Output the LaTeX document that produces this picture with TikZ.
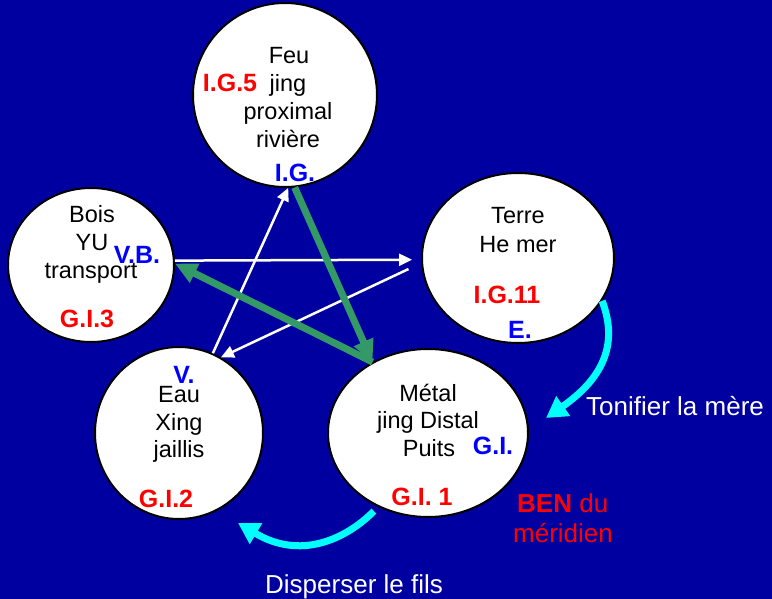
\documentclass[tikz,border=0pt]{standalone}
\usepackage{fontspec}
\setmainfont{Liberation Sans}
\usetikzlibrary{shapes.geometric,arrows.meta}
\definecolor{bgblue}{RGB}{0,0,160}
\definecolor{labblue}{RGB}{0,0,255}
\definecolor{labred}{RGB}{255,0,0}
\definecolor{arrgreen}{RGB}{51,153,102}
\definecolor{arrcyan}{RGB}{0,255,255}
\begin{document}
\begin{tikzpicture}[x=1pt,y=-1pt,
  circ/.style={ellipse, draw=black, line width=2pt, fill=white, inner sep=0pt},
  txt/.style={anchor=base, inner sep=0pt, text=black, font=\fontsize{23.5}{28}\selectfont},
  redl/.style={anchor=base, inner sep=0pt, text=labred, font=\fontsize{25}{30}\selectfont\bfseries},
  bluel/.style={anchor=base, inner sep=0pt, text=labblue, font=\fontsize{25}{30}\selectfont\bfseries},
  outtxt/.style={inner sep=0pt, font=\fontsize{26}{30}\selectfont},
  whitearr/.style={draw=white, line width=2.5pt, -{Triangle[length=13pt,width=12pt]}},
  greenarr/.style={draw=arrgreen, line width=7pt, -{Triangle[length=22pt,width=20pt]}},
  cyanarr/.style={draw=arrcyan, line width=7pt, -{Triangle[length=21pt,width=23pt]}}]
\fill[bgblue] (0,0) rectangle (772,599);
\path[use as bounding box] (0,0) rectangle (772,599);

% circles
\node[circ, minimum width=184pt, minimum height=184pt] (feu) at (285,95) {};
\node[circ, minimum width=166pt, minimum height=154pt] (bois) at (91,265) {};
\node[circ, minimum width=192pt, minimum height=170pt] (terre) at (518,258) {};
\node[circ, minimum width=168pt, minimum height=172pt] (eau) at (179,433) {};
\node[circ, minimum width=200pt, minimum height=168pt] (metal) at (428,433) {};

% white arrows
\draw[whitearr] (eau.67) -- (feu.272);
\draw[whitearr, shorten >=9pt] (bois.3) -- (terre.181);
\draw[whitearr, shorten <=14pt] (terre.183) -- (eau.61);

% green arrows
\draw[greenarr] (feu.276) -- (metal.128);
\draw[greenarr] (metal.128) -- (bois.1);

% cyan arrows
\coordinate (tonend) at (546,418);
\draw[cyanarr] (terre.333) .. controls (615,335) and (612,372) .. (tonend);
\coordinate (dispend) at (238,523);
\draw[cyanarr, shorten <=6pt] (metal.236) .. controls (345,540) and (300,560) .. (dispend);

% Feu
\node[txt] (feu1) at (289,64) {Feu};
\node[txt] (feu2) at (288,92) {jing};
\node[txt] (feu3) at (288,120) {proximal};
\node[txt] (feu4) at (288,148) {rivière};
\node[redl] (feur) at (230,92) {I.G.5};
\node[bluel] (feub) at (295,182) {I.G.};

% Bois
\node[txt] (bois1) at (92,223) {Bois};
\node[txt] (bois2) at (92,251) {YU};
\node[txt] (bois3) at (91,278) {transport};
\node[bluel] (boisb) at (137,264) {V.B.};
\node[redl] (boisr) at (87,327) {G.I.3};

% Terre
\node[txt] (terre1) at (518,224) {Terre};
\node[txt] (terre2) at (518,252) {He mer};
\node[redl] (terrer) at (507,303) {I.G.11};
\node[bluel] (terreb) at (520,338) {E.};

% Eau
\node[bluel] (eaub) at (184,383) {V.};
\node[txt] (eau1) at (179,402) {Eau};
\node[txt] (eau2) at (179,430) {Xing};
\node[txt] (eau3) at (179,457) {jaillis};
\node[redl] (eaur) at (166,507) {G.I.2};

% Metal
\node[txt] (metal1) at (428,401) {Métal};
\node[txt] (metal2) at (428,428) {jing Distal};
\node[txt] (metal3) at (429,456) {Puits};
\node[bluel] (metalb) at (493,454) {G.I.};
\node[redl] (metalr) at (422,505) {G.I. 1};

% outside labels
\node[outtxt, anchor=base west, text=white] (tonif) at (586,415) {Tonifier la mère};
\node[outtxt, anchor=base west, text=labred] (ben) at (517,512) {\textbf{BEN} du};
\node[outtxt, anchor=base, text=labred] (merid) at (563,542) {méridien};
\node[outtxt, anchor=base west, text=white] (disp) at (265,593) {Disperser le fils};
\end{tikzpicture}
\end{document}
